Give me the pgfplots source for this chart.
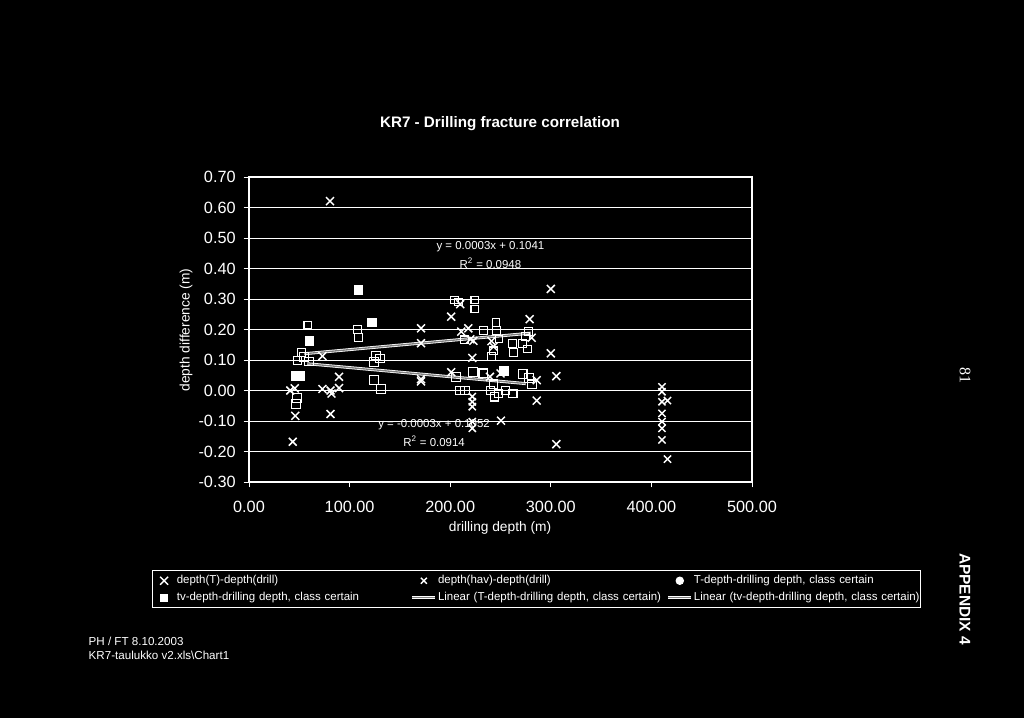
\documentclass[border=0pt]{standalone}
\usepackage{fontspec}
\setmainfont{Liberation Sans}
\newfontfamily\serifnum{Liberation Serif}
\usepackage{pgfplots}
\pgfplotsset{compat=1.18}
\pgfplotsset{
  markleg/.style={legend image code/.code={\path[draw=none] (0cm,0cm) -- (0.6cm,0cm); \draw[##1, only marks] plot coordinates {(0.3cm,0cm)};}},
  lineleg/.style={legend image code/.code={\draw[##1] (0cm,0cm) -- (0.6cm,0cm);}},
}

\begin{document}
\begin{tikzpicture}[x=0.75pt,y=-0.75pt]
\fill[black] (0,0) rectangle (1024,718);
\useasboundingbox (0,0) rectangle (1024,718);
\begin{axis}[
  at={(186.75pt,-361.5pt)}, anchor=south west,
  scale only axis, width=377.25pt, height=228.75pt,
  xmin=0, xmax=500, ymin=-0.3, ymax=0.7,
  xtick={0,100,200,300,400,500},
  ytick={-0.3,-0.2,-0.1,0,0.1,0.2,0.3,0.4,0.5,0.6,0.7},
  xtick pos=bottom, ytick pos=left, tick align=outside,
  major tick length=4pt,
  tick style={white, line width=0.7pt},
  axis line style={white, line width=0.8pt},
  ymajorgrids, major grid style={white, line width=0.7pt},
  tick label style={white, font=\fontsize{12.2}{14}\selectfont},
  /pgf/number format/assume math mode=true,
  xticklabel style={yshift=-6.5pt, /pgf/number format/.cd, fixed, fixed zerofill, precision=2},
  yticklabel style={xshift=-2.5pt, /pgf/number format/.cd, fixed, fixed zerofill, precision=2},
  legend columns=3, legend cell align=left,
  legend style={at={(rel axis cs:-0.1936,-0.29)}, anchor=north west,
    draw=white, fill=black, text=white, line width=0.7pt,
    font=\fontsize{8.6}{10.3}\selectfont, inner xsep=0.5pt, inner ysep=1.5pt,
    row sep=1pt, nodes={inner xsep=1pt},
    /tikz/column 2/.style={nodes={text width=174.6pt}},
    /tikz/column 4/.style={nodes={text width=170.7pt}},
    /tikz/column 6/.style={nodes={text width=168.4pt}}},
  clip=false,
]
% depth(T)-depth(drill)
\addplot[only marks, white, mark=x, mark size=4.2pt, line width=1.1pt, forget plot] coordinates {
(80.5,0.621)(73,0.113)(89.5,0.045)(41,0.0)(45.5,0.007)(73,0.005)(81,0.0)(82,-0.01)(89.5,0.008)
(46,-0.083)(81,-0.077)(43.5,-0.168)(171,0.204)(171,0.155)(171,0.037)(171,0.03)(300,0.333)
(210,0.283)(201,0.242)(279,0.234)(211,0.193)(218,0.204)(223,0.163)(241,0.162)(243,0.144)
(281,0.173)(222,0.107)(300,0.122)(201,0.06)(239.5,0.045)(250,0.056)(286,0.034)(305.5,0.047)
(286,-0.033)(250.5,-0.099)(305.5,-0.176)(220,0.168)};
% depth(hav)-depth(drill)
\addplot[only marks, white, mark=x, mark size=3.8pt, line width=1.1pt, forget plot] coordinates {
(222,-0.02)(222,-0.037)(222,-0.053)(222,-0.102)(222,-0.124)(410.5,0.012)(410.5,-0.004)
(410.5,-0.037)(416,-0.033)(410.5,-0.075)(410.5,-0.102)(410.5,-0.124)(410.5,-0.162)(416,-0.225)};
% T-depth-drilling depth, class certain
\addplot[only marks, white, mark=square, mark size=2.9pt, line width=0.8pt, forget plot] coordinates {
(58.5,0.215)(108,0.20)(109,0.173)(204.5,0.297)(224.5,0.297)(224.5,0.267)(245.5,0.224)(233,0.196)
(246,0.196)(214.5,0.166)(248.5,0.169)(262,0.155)(272,0.155)(277,0.136)(263,0.124)(278,0.193)
(275,0.178)(243,0.13)(241,0.112)(48,0.098)(52,0.125)(208,0.29)};
% tv-depth-drilling depth, class certain
\addplot[only marks, white, mark=square, mark size=3.3pt, line width=0.8pt, forget plot] coordinates {
(55,0.11)(60,0.095)(126,0.115)(130,0.105)(124,0.093)(124,0.035)(131,0.005)(48,-0.025)(47,-0.045)
(206,0.045)(223,0.06)(233,0.056)(214.5,0.0)(210,0.0)(243,0.02)(240,0.0)(248,-0.01)(255,0.0)
(262,-0.01)(244,-0.02)(272,0.055)(278,0.04)(281,0.02)};
\addplot[only marks, white, mark=square*, mark size=3.2pt, forget plot] coordinates {
(108.5,0.33)(122,0.224)(60,0.163)(46,0.048)(51,0.048)(253.5,0.064)};
% trend lines
\addplot[white, line width=0.6pt, double=gray, double distance=1pt, forget plot] coordinates {(55,0.1206)(280,0.1881)};
\addplot[white, line width=0.6pt, double=gray, double distance=1pt, forget plot] coordinates {(58,0.0878)(275,0.0227)};

\node[white, font=\fontsize{8.6}{10}\selectfont] at (axis cs:240,0.471) {y = 0.0003x + 0.1041};
\node[white, font=\fontsize{8.6}{10}\selectfont] at (axis cs:240,0.418) {R\textsuperscript{2} = 0.0948};
\node[white, font=\fontsize{8.6}{10}\selectfont] at (axis cs:184,-0.113) {y = -0.0003x + 0.1052};
\node[white, font=\fontsize{8.6}{10}\selectfont] at (axis cs:184,-0.165) {R\textsuperscript{2} = 0.0914};

\addlegendimage{markleg, white, mark=x, mark size=4.2pt, line width=1.1pt}
\addlegendentry{depth(T)-depth(drill)}
\addlegendimage{markleg, white, mark=x, mark size=3.2pt, line width=1pt}
\addlegendentry{depth(hav)-depth(drill)}
\addlegendimage{markleg, white, mark=*, mark size=2.8pt}
\addlegendentry{T-depth-drilling depth, class certain}
\addlegendimage{markleg, white, mark=square*, mark size=2.8pt}
\addlegendentry{tv-depth-drilling depth, class certain}
\addlegendimage{lineleg, white, line width=0.6pt, double=gray, double distance=1pt}
\addlegendentry{\mbox{Linear (T-depth-drilling depth, class certain)}}
\addlegendimage{lineleg, white, line width=0.6pt, double=gray, double distance=1pt}
\addlegendentry{\mbox{Linear (tv-depth-drilling depth, class certain)}}
\end{axis}

\node[white, font=\bfseries\fontsize{11.4}{13}\selectfont] at (500,124) {KR7 - Drilling fracture correlation};
\node[white, font=\fontsize{10.3}{12}\selectfont] at (500,528) {drilling depth (m)};
\node[white, font=\fontsize{10.3}{12}\selectfont, rotate=90] at (186,330) {depth difference (m)};
\node[white, font=\fontsize{8.7}{10}\selectfont, anchor=west] at (84,641.5) {PH / FT 8.10.2003};
\node[white, font=\fontsize{8.7}{10}\selectfont, anchor=west] at (84,655.5) {KR7-taulukko v2.xls\textbackslash Chart1};
\node[white, font=\bfseries\fontsize{11.6}{13}\selectfont, rotate=-90] at (965,599) {APPENDIX 4};
\node[white, font=\serifnum\fontsize{12}{14}\selectfont, rotate=-90] at (965,375) {81};
\end{tikzpicture}
\end{document}
